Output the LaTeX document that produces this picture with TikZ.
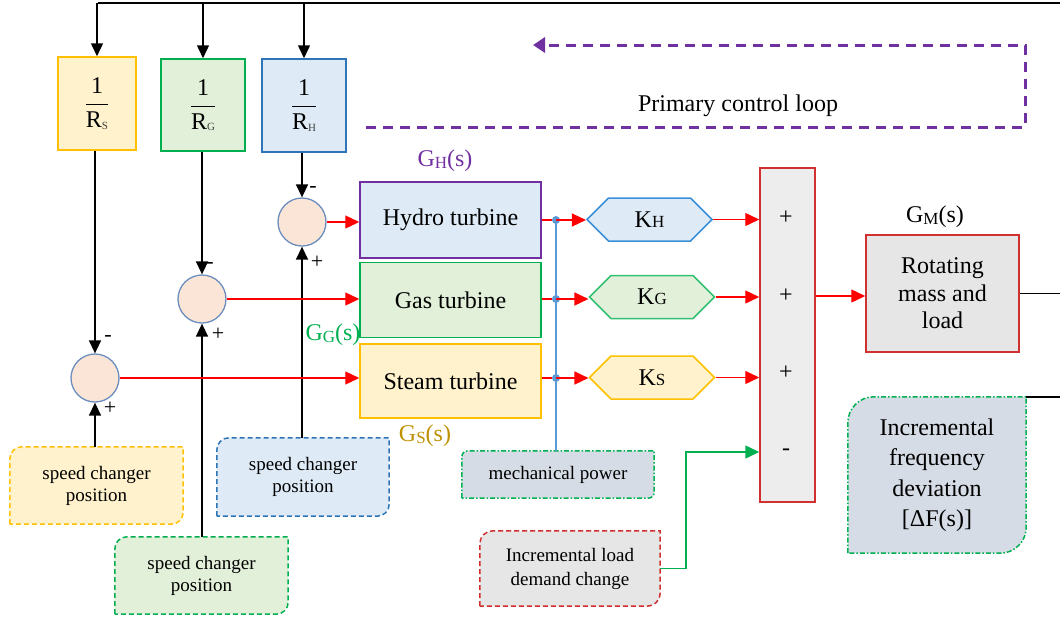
\documentclass[tikz,border=0pt]{standalone}
\usepackage{fontspec}
\setmainfont{Liberation Serif}
\usetikzlibrary{arrows.meta,shapes.symbols,calc,backgrounds}
\definecolor{ylwfill}{HTML}{FFF2CC}
\definecolor{ylwdraw}{HTML}{FFC000}
\definecolor{grnfill}{HTML}{E2F0D9}
\definecolor{grndraw}{HTML}{00B050}
\definecolor{blufill}{HTML}{DEEBF7}
\definecolor{bludraw}{HTML}{2E75B6}
\definecolor{hexblue}{HTML}{3A8FD9}
\definecolor{purp}{HTML}{7030A0}
\definecolor{sumfill}{HTML}{FBE5D6}
\definecolor{sumdraw}{HTML}{6C8EBF}
\definecolor{redline}{HTML}{FF0000}
\definecolor{boxred}{HTML}{D03030}
\definecolor{grayfill}{HTML}{EDEDED}
\definecolor{rotfill}{HTML}{E7E6E6}
\definecolor{slate}{HTML}{D6DCE5}
\definecolor{blueline}{HTML}{5B9BD5}
\definecolor{goldlbl}{HTML}{BF9000}
\newcommand\mysub[1]{\raisebox{-1.5pt}{\fontsize{17}{17}\selectfont #1}}
\newcommand\myksub[1]{{\fontsize{17}{17}\selectfont #1}}
\newcommand\myrsub[1]{\raisebox{-1.5pt}{\fontsize{11}{11}\selectfont\color{darkgray}#1}}
\newcommand\myfrac[1]{$\displaystyle\frac{\mbox{1}}{\mbox{R\myrsub{#1}}}$}
\newcommand\diagframe[3]{%
  \path[#3] (#1.south west) -- ($(#1.north west)+(0,-#2)$)
    arc[start angle=180,end angle=90,radius=#2] -- (#1.north east)
    -- ($(#1.south east)+(0,#2)$)
    arc[start angle=0,end angle=-90,radius=#2] -- cycle;}
\begin{document}
\begin{tikzpicture}[x=1pt,y=1pt,
  ln/.style={line width=1.5pt, black},
  blkarr/.style={ln, -{Triangle[length=13pt,width=12pt]}},
  redarr/.style={line width=1.4pt, redline, -{Triangle[length=14pt,width=13pt]}},
  redln/.style={line width=1.4pt, redline},
  big/.style={font=\fontsize{24}{28}\selectfont},
  small/.style={font=\fontsize{19}{22}\selectfont},
  rbox/.style={draw, line width=1.5pt, inner sep=0, align=center},
  sumc/.style={circle, draw=sumdraw, fill=sumfill, line width=1.3pt, minimum size=48pt, inner sep=0},
  sgn/.style={font=\fontsize{22}{22}\selectfont, inner sep=0},
  hexa/.style={signal, signal to=east and west, signal pointer angle=90, minimum height=43pt, minimum width=125pt, inner sep=0, line width=1.5pt, font=\fontsize{24}{28}\selectfont},
  dotn/.style={circle, fill=blueline, inner sep=0, minimum size=8pt},
  plain/.style={inner sep=0, align=center},
]
\useasboundingbox (0,0) rectangle (1060,-619);

% droop boxes
\node[rbox, big, draw=ylwdraw, fill=ylwfill, minimum width=78pt, minimum height=93pt] (RS) at (97,-103.5) {\myfrac{S}};
\node[rbox, big, draw=grndraw, fill=grnfill, minimum width=84pt, minimum height=92pt] (RG) at (203,-105) {\myfrac{G}};
\node[rbox, big, draw=bludraw, fill=blufill, minimum width=84pt, minimum height=93pt] (RH) at (304,-105.5) {\myfrac{H}};

% top feedback line
\coordinate (T0) at (98,-3);
\coordinate (T1) at (1060,-3);
\draw[ln] (T0) -- (T1);
\draw[blkarr] (RS.north |- T0) -- (RS.north);
\draw[blkarr] (RG.north |- T0) -- (RG.north);
\draw[blkarr] (RH.north |- T0) -- (RH.north);

% summing circles
\node[sumc] (sumS) at (95,-378) {};
\node[sumc] (sumG) at (202,-299) {};
\node[sumc] (sumH) at (302,-222) {};
\draw[blkarr] (sumS |- RS.south) -- (sumS.north);
\draw[blkarr] (sumG |- RG.south) -- (sumG.north);
\draw[blkarr] (sumH |- RH.south) -- (sumH.north);
\node[sgn] at (108,-338) {-};
\node[sgn] at (110,-408) {+};
\node[sgn] at (210,-265) {-};
\node[sgn] at (218,-334) {+};
\node[sgn] at (313,-189) {-};
\node[sgn] at (317,-262) {+};

% speed changer boxes
\node[plain, small, minimum width=173pt, minimum height=77pt] (SY) at (96.5,-485.5) {speed changer\\position};
\node[plain, small, minimum width=172pt, minimum height=78pt] (SBl) at (303,-477) {speed changer\\position};
\node[plain, small, minimum width=173pt, minimum height=77pt] (SGr) at (201.5,-575.5) {speed changer\\position};
\draw[blkarr] (sumS |- SY.north) -- (sumS.south);
\draw[blkarr] (sumG |- SGr.north) -- (sumG.south);
\draw[blkarr] (sumH |- SBl.north) -- (sumH.south);

% turbines
\node[rbox, big, draw=purp, fill=blufill, minimum width=181pt, minimum height=76pt] (Hy) at (450.5,-220) {Hydro turbine};
\node[rbox, big, draw=grndraw, fill=grnfill, minimum width=181pt, minimum height=75pt] (Ga) at (450.5,-300) {Gas turbine};
\node[rbox, big, draw=ylwdraw, fill=ylwfill, minimum width=181pt, minimum height=74pt] (St) at (450.5,-381) {Steam turbine};
\draw[redarr] (sumH.east) -- (sumH.east -| Hy.west);
\draw[redarr] (sumG.east) -- (sumG.east -| Ga.west);
\draw[redarr] (sumS.east) -- (sumS.east -| St.west);

\node[big, text=purp] at (445,-161) {G\mysub{H}(s)};
\node[big, text=grndraw] at (333,-335) {G\mysub{G}(s)};
\node[big, text=goldlbl] at (425,-436) {G\mysub{S}(s)};

% mechanical power
\node[plain, small, minimum width=192pt, minimum height=47pt] (Mech) at (558,-474.5) {mechanical power};
\node[dotn] (dH) at (556,-220) {};
\node[dotn] (dG) at (556,-299) {};
\node[dotn] (dS) at (556,-378) {};
\draw[line width=1.6pt, blueline] (dH.center) -- (dH.center |- Mech.north);
\draw[redln] (dH -| Hy.east) -- (dH);
\draw[redln] (dG -| Ga.east) -- (dG);
\draw[redln] (dS -| St.east) -- (dS);

% gains
\node[hexa, draw=hexblue, fill=blufill] (KH) at (649.5,-219.5) {K\myksub{H}};
\node[hexa, draw=grndraw!80, fill=grnfill] (KG) at (652,-297) {K\myksub{G}};
\node[hexa, draw=ylwdraw, fill=ylwfill] (KS) at (652,-377.5) {K\myksub{S}};
\draw[redarr] (dH.center) -- (dH -| KH.west);
\draw[redarr] (dG.center) -- (dG -| KG.west);
\draw[redarr] (dS.center) -- (dS -| KS.west);

% summing block
\node[draw=boxred, fill=grayfill, line width=1.5pt, minimum width=55pt, minimum height=334pt, inner sep=0] (SB) at (787.5,-335) {};
\node[big] (sb1) at (786,-218) {+};
\node[big] (sb2) at (786,-296) {+};
\node[big] (sb3) at (786,-373) {+};
\node[big] (sb4) at (786,-452) {-};
\draw[redarr] (KH.east) -- (KH.east -| SB.west);
\draw[redarr] (KG.east) -- (KG.east -| SB.west);
\draw[redarr] (KS.east) -- (KS.east -| SB.west);

% rotating mass
\node[rbox, draw=boxred, fill=rotfill, minimum width=153pt, minimum height=117pt, font=\fontsize{24}{27.5}\selectfont] (Rot) at (942.5,-293.5) {Rotating\\mass and\\load};
\node[big] at (935,-217) {G\mysub{M}(s)};
\draw[redarr] (SB.east |- sb2) -- (sb2 -| Rot.west);

% incremental frequency deviation
\node[plain, minimum width=178pt, minimum height=156pt, font=\fontsize{24}{30.5}\selectfont] (IF) at (937,-475) {Incremental\\frequency\\deviation\\{[}ΔF(s)]};
\coordinate (RE) at (1060,0);
\draw[ln] (Rot.east) -- (Rot.east -| RE);
\draw[ln] (IF.north east) -- (IF.north east -| RE);

% incremental load demand
\node[plain, small, font=\fontsize{19}{24}\selectfont, minimum width=180pt, minimum height=75pt] (IL) at (570,-568.5) {Incremental load\\demand change};
\draw[line width=1.5pt, grndraw, -{Triangle[length=14pt,width=13pt]}] (IL.east) -- ++(26,0) |- (SB.west |- sb4);

% primary control loop
\coordinate (P1) at (366,-127);
\coordinate (P2) at (1025,-127);
\coordinate (P3) at (1025,-45);
\coordinate (P4) at (533,-45);
\draw[purp, line width=3pt, dash pattern=on 10pt off 7pt, -{Triangle[length=12pt,width=15pt]}] (P1) -- (P2) -- (P3) -- (P4);
\node[big] (PCL) at (738,-106) {Primary control loop};

\begin{scope}[on background layer]
\diagframe{SY}{12pt}{fill=ylwfill, draw=ylwdraw, line width=1.5pt, dash pattern=on 5pt off 3pt}
\diagframe{SBl}{12pt}{fill=blufill, draw=bludraw, line width=1.5pt, dash pattern=on 5pt off 3pt}
\diagframe{SGr}{12pt}{fill=grnfill, draw=grndraw, line width=1.5pt, dash pattern=on 5pt off 3pt}
\diagframe{Mech}{6pt}{fill=slate, draw=grndraw, line width=1.5pt, dash pattern=on 5pt off 2pt on 1.5pt off 2pt}
\diagframe{IF}{26pt}{fill=slate, draw=grndraw, line width=1.5pt, dash pattern=on 5pt off 2pt on 1.5pt off 2pt}
\diagframe{IL}{13pt}{fill=rotfill, draw=boxred, line width=1.5pt, dash pattern=on 5pt off 3pt}
\end{scope}
\end{tikzpicture}
\end{document}
